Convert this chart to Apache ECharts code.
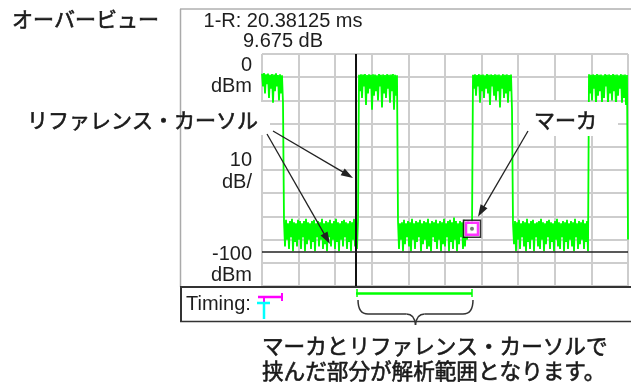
<!DOCTYPE html>
<html><head><meta charset="utf-8">
<script src="https://cdn.jsdelivr.net/npm/echarts@6/dist/echarts.min.js"></script>
<style>html,body{margin:0;padding:0;background:#fff}#c{width:631px;height:385px}</style>
</head><body><div id="c"></div><script>
// ---- data ----
const timeSpanMs = 64;          // full screen width, 10 divisions
const timeDivMs = 6.4;
const levelTopDbm = 0, levelBottomDbm = -100, levelDivDb = 10;

// trace samples (dBm), one per display column, alternating peak / trough
const burst1 = [-8.5,-14,-8.2,-17,-8.8,-13,-8.4,-19,-9,-15,-8.6,-21,-8.9,-16,-8.3,-14,-9.1,-20,-8.7,-17,-9.2,-21];
const floor1 = [-72,-83,-71.5,-80,-73,-84,-72,-79,-71,-85,
  -72.5,-81,-73,-83,-71.5,-80,-72,-84,-73,-79,
  -72,-85,-71,-82,-72.5,-80,-73,-84,-72,-81,
  -71.5,-85,-73,-79,-72,-83,-72.5,-80,-71,-84,
  -73,-82,-72,-85,-72.5,-79,-71.5,-83,-73,-80,
  -72,-84,-71,-81,-72.5,-85,-73,-80,-72,-83,
  -71.5,-79,-72.5,-84,-73,-81,-72,-85,-72.5,-80,
  -71,-83,-73,-84,-72];
const burst2 = [-9,-16,-8.7,-19,-8.9,-14,-8.6,-22,-9.1,-17,
  -8.8,-15,-9,-24,-8.7,-18,-8.9,-16,-9.2,-20,
  -8.6,-14,-9,-23,-8.8,-17,-9.1,-19,-8.7,-15,
  -9,-21,-8.9,-16,-8.6,-24,-9,-18,-9.2];
const floor2 = [-72,-84,-73,-80,-72.5,-85,-71.5,-82,-73,-79,
  -72,-83,-72.5,-85,-71,-80,-73,-84,-72,-81,
  -72.5,-79,-71.5,-85,-73,-82,-72,-80,-72.5,-84,
  -71,-83,-73,-85,-72,-79,-72.5,-81,-71.5,-84,
  -73,-80,-72,-85,-72.5,-82,-71,-83,-73,-79,
  -72,-85,-71.5,-81,-72.5,-84,-70.5,-80,-72,-85,
  -73,-82,-72,-79,-72.5,-84,-71.5,-83,-73,-80,
  -72,-76,-74,-77,-75.3];
const burst3 = [-9,-15,-8.8,-18,-9.1,-14,-8.7,-21,-9,-16,
  -8.9,-19,-9.2,-15,-8.6,-17,-9,-22,-8.8,-14,
  -9.1,-18,-8.7,-20,-9,-16,-8.9,-23,-9.2,-15,
  -8.7,-19,-9,-17,-8.8,-21,-9.1,-16,-8.9,-24];
const floor3 = [-73,-82,-72,-85,-72.5,-80,-71.5,-84,-73,-79,
  -72,-83,-72.5,-85,-71,-81,-73,-84,-72,-80,
  -71.5,-85,-73,-79,-72.5,-83,-72,-84,-71,-80,
  -72.5,-85,-73,-82,-72,-79,-71.5,-84,-72.5,-81,
  -73,-85,-72,-80,-71,-83,-72.5,-84,-73,-79,
  -72,-85,-72.5,-81,-71.5,-84,-73,-80,-72,-83,
  -72.5,-85,-71,-79,-73,-84,-72,-82,-72.5,-80,
  -71.5,-84,-73,-81,-72,-85];
const burst4 = [-8.7,-17,-9,-20,-8.8,-15,-9.1,-22,-8.6,-18,
  -9,-16,-8.9,-21,-9.2,-19,-8.7,-14,-9,-22,
  -8.8,-17,-9.1,-20,-8.6,-16,-9,-23,-8.9,-18,
  -9.2,-15,-8.7,-21,-9,-19,-8.8,-22,-9.1,-80];

const cursorTimeMs = 16.44;   // reference cursor
const markerTimeMs = 36.72;   // marker
const markerDbm = -75.3;
const thresholdDbm = -85.3;

const readoutLines = ['1-R: 20.38125 ms', '9.675 dB'];
const scaleLabels = ['0\ndBm', '10\ndB/', '-100\ndBm'];
const scaleLabelValues = [0, -50, -100];
const titleText = 'オーバービュー';
const cursorLabel = 'リファレンス・カーソル';
const markerLabel = 'マーカ';
const noteLines = ['マーカとリファレンス・カーソルで', '挟んだ部分が解析範囲となります。'];
const timingLabel = 'Timing:';

// ---- build ----
const traceDbm = [].concat(burst1, floor1, burst2, floor2, burst3, floor3, burst4);
const stepMs = timeSpanMs / (traceDbm.length - 1);
const traceData = traceDbm.map((v, i) => [i * stepMs, v]);

const LAT = 'Liberation Sans', JP = 'Noto Sans CJK JP';
const chart = echarts.init(document.getElementById('c'), null, {renderer: 'canvas'});
const gridColor = '#cdcdcd';
chart.setOption({
  animation: false,
  backgroundColor: '#fff',
  grid: {left: 262, top: 54, width: 366, height: 232, containLabel: false},
  xAxis: {type: 'value', min: 0, max: timeSpanMs, interval: timeDivMs,
    axisLabel: {show: false}, axisTick: {show: false}, axisLine: {show: false},
    splitLine: {show: true, showMinLine: true, showMaxLine: true, lineStyle: {color: gridColor, width: 2}}},
  yAxis: {type: 'value', min: levelBottomDbm, max: levelTopDbm, interval: levelDivDb,
    axisLabel: {show: false}, axisTick: {show: false}, axisLine: {show: false},
    splitLine: {show: true, showMinLine: true, showMaxLine: true, lineStyle: {color: gridColor, width: 2}}},
  series: [
    {type: 'line', data: traceData, showSymbol: false, symbol: 'none', z: 2,
      lineStyle: {color: '#00ff00', width: 1.8}, silent: true,
      markLine: {silent: true, symbol: 'none', label: {show: false},
        lineStyle: {color: '#111', width: 2, type: 'solid'},
        data: [{xAxis: cursorTimeMs}, {yAxis: thresholdDbm, lineStyle: {width: 1.5, color: '#222'}}]}},
    {type: 'scatter', data: [[markerTimeMs, markerDbm]], symbol: 'rect', symbolSize: 17, z: 5, silent: true,
      itemStyle: {color: '#fff', borderColor: '#000', borderWidth: 1.5}},
    {type: 'scatter', data: [[markerTimeMs, markerDbm]], symbol: 'rect', symbolSize: 12, z: 6, silent: true,
      itemStyle: {color: '#fff', borderColor: '#ff00ff', borderWidth: 2.5}},
    {type: 'scatter', data: [[markerTimeMs, markerDbm]], symbol: 'circle', symbolSize: 4, z: 7, silent: true,
      itemStyle: {color: '#555'}}
  ]
});

const px = (t, v) => chart.convertToPixel({gridIndex: 0}, [t, v]);
const xc = px(cursorTimeMs, 0)[0];
const [xm, ym] = px(markerTimeMs, markerDbm);

function txt(x, y, text, o) {
  return {type: 'text', z: 120, silent: true, style: Object.assign({
    x, y, text, fill: '#1e1e1e', fontSize: 20, fontFamily: LAT,
    align: 'left', verticalAlign: 'middle', textAlign: 'left', textVerticalAlign: 'middle'}, o || {})};
}
function ln(x1, y1, x2, y2, stroke, w) {
  return {type: 'line', z: 110, silent: true, shape: {x1, y1, x2, y2}, style: {stroke, lineWidth: w}};
}
function arrow(x1, y1, x2, y2) {
  const dx = x2 - x1, dy = y2 - y1, L = Math.hypot(dx, dy), ux = dx / L, uy = dy / L;
  const hl = 12, hw = 4;
  const bx = x2 - ux * hl, by = y2 - uy * hl;
  return [ln(x1, y1, bx + ux * 2, by + uy * 2, '#222', 1.3),
    {type: 'polygon', z: 111, silent: true,
      shape: {points: [[x2, y2], [bx - uy * hw, by + ux * hw], [bx + uy * hw, by - ux * hw]]},
      style: {fill: '#222'}}];
}
function bez(x1, y1, cx, cy, x2, y2) {
  return {type: 'bezierCurve', z: 110, silent: true, shape: {x1, y1, x2, y2, cpx1: cx, cpy1: cy},
    style: {stroke: '#333', lineWidth: 1.5, fill: null}};
}

const g = [];
// frames
g.push(ln(180, 9, 631, 9, '#888', 1));
g.push(ln(180.5, 9, 180.5, 287, '#aaa', 1.5));
g.push(ln(180, 287, 631, 287, '#333', 2));
g.push(ln(181, 287, 181, 321, '#333', 2));
g.push(ln(180, 321.5, 631, 321.5, '#333', 1.5));
// white label backgrounds
g.push({type: 'rect', z: 105, silent: true, shape: {x: 24, y: 102, width: 246, height: 33}, style: {fill: '#fff'}});
g.push({type: 'rect', z: 105, silent: true, shape: {x: 520, y: 102, width: 98, height: 34}, style: {fill: '#fff'}});
// readout
g.push(txt(283, 21, readoutLines[0], {align: 'center', textAlign: 'center'}));
g.push(txt(283, 41, readoutLines[1], {align: 'center', textAlign: 'center'}));
// scale labels
const yTop = px(0, scaleLabelValues[0])[1], yMid = px(0, scaleLabelValues[1])[1], yBot = px(0, scaleLabelValues[2])[1];
g.push(txt(252, yTop + 1, scaleLabels[0], {align: 'right', textAlign: 'right', verticalAlign: 'top', textVerticalAlign: 'top', lineHeight: 21}));
g.push(txt(252, yMid + 1, scaleLabels[1], {align: 'right', textAlign: 'right', lineHeight: 22}));
g.push(txt(252, yBot, scaleLabels[2], {align: 'right', textAlign: 'right', verticalAlign: 'bottom', textVerticalAlign: 'bottom', lineHeight: 21}));
// Japanese annotations
const jp = {fontFamily: JP, fontSize: 21, fontWeight: 'normal', fill: '#1a1a1a', stroke: '#1a1a1a', lineWidth: 0.6};
const jpNote = Object.assign({}, jp, {fontSize: 21.6});
g.push(txt(12, 19, titleText, jp));
g.push(txt(27, 120, cursorLabel, jp));
g.push(txt(534, 120, markerLabel, jp));
g.push(txt(262, 346, noteLines[0], jpNote));
g.push(txt(262, 371, noteLines[1], jpNote));
// arrows
g.push(...arrow(273, 131, xc - 3, 178));
g.push(...arrow(267, 134, 330, 244));
g.push(...arrow(528, 131, xm + 6, ym - 12));
// timing row
g.push(txt(186, 304, timingLabel));
g.push(ln(258, 297, 283, 297, '#ff00ff', 2.5));
g.push(ln(282, 293, 282, 301, '#ff00ff', 2));
g.push(ln(264, 296, 264, 304, '#ff00ff', 2));
g.push(ln(257, 303, 270, 303, '#00ffff', 2.5));
g.push(ln(264, 303, 264, 319, '#00ffff', 2.5));
g.push(ln(xc, 293.5, xm, 293.5, '#00ff00', 2.5));
g.push(ln(xc + 1, 289, xc + 1, 297, '#00ff00', 1.5));
g.push(ln(xm, 289, xm, 297, '#00ff00', 1.5));
// brace
const L = xc + 2, R = xm + 1, M = (L + R) / 2;
g.push(bez(L, 300, L, 314, L + 10, 314));
g.push(ln(L + 10, 314, M - 9, 314, '#333', 1.5));
g.push(bez(M - 9, 314, M - 1, 314, M, 325));
g.push(bez(R, 300, R, 314, R - 10, 314));
g.push(ln(R - 10, 314, M + 9, 314, '#333', 1.5));
g.push(bez(M + 9, 314, M + 1, 314, M, 325));

chart.setOption({graphic: {elements: g}});
</script></body></html>
